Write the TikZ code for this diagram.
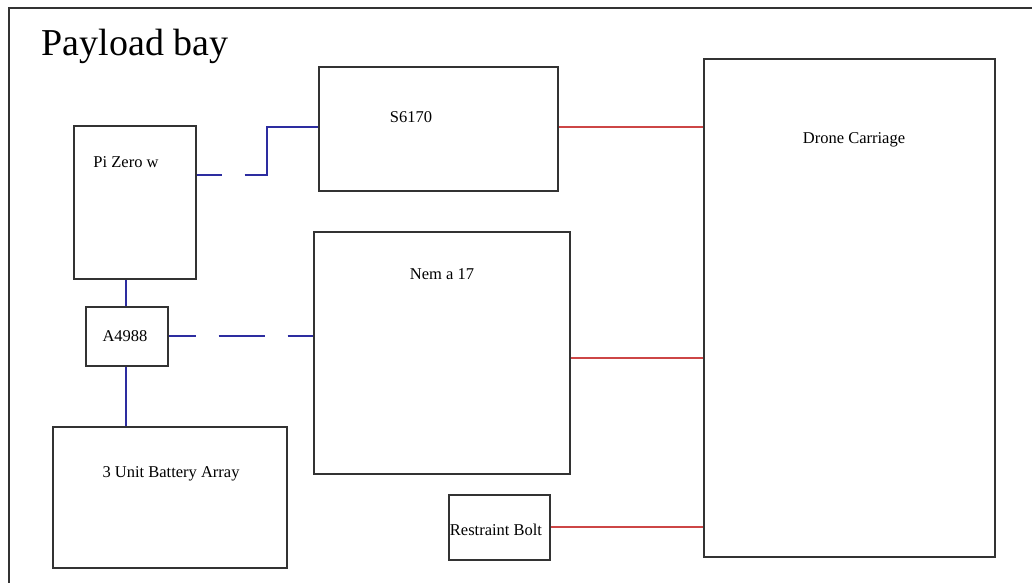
\documentclass[tikz,border=0pt]{standalone}
\usepackage{fontspec}
\setmainfont{Liberation Serif}
\begin{document}
\begin{tikzpicture}[x=1pt,y=-1pt,
  box/.style={draw=black!80,line width=1.7pt,rectangle,inner sep=0pt,anchor=north west},
  lbl/.style={anchor=base,inner sep=0pt,font=\fontsize{16.5}{19}\selectfont,text=black},
  blue line/.style={draw={rgb,255:red,45;green,45;blue,160},line width=1.5pt},
  red line/.style={draw={rgb,255:red,205;green,70;blue,70},line width=1.5pt}]
\useasboundingbox (0,0) rectangle (1032,583);
\fill[white] (0,0) rectangle (1032,583);
% outer frame
\coordinate (ftl) at (9,8);
\coordinate (ftr) at (1032,8);
\coordinate (fbl) at (9,583);
\draw[black!80,line width=1.5pt] (ftr) -- (ftl) -- (fbl);
\node[anchor=base,inner sep=0pt,font=\fontsize{38}{44}\selectfont] (title) at (135,56) {Payload bay};
% boxes
\node[box,minimum width=122pt,minimum height=153pt] (pi) at (73,125) {};
\node[box,minimum width=239pt,minimum height=124pt] (s6) at (318,66) {};
\node[box,minimum width=256pt,minimum height=242pt] (nema) at (313,231) {};
\node[box,minimum width=82pt,minimum height=59pt] (a49) at (85,306) {};
\node[box,minimum width=234pt,minimum height=141pt] (bat) at (52,426) {};
\node[box,minimum width=101pt,minimum height=65pt] (rb) at (448,494) {};
\node[box,minimum width=291pt,minimum height=498pt] (dc) at (703,58) {};
% labels
\node[lbl] (pit) at (126,167) {Pi Zero w};
\node[lbl] (s6t) at (411,122) {S6170};
\node[lbl] (nemat) at (442,279) {Nem a 17};
\node[lbl] (dct) at (854,143) {Drone Carriage};
\node[lbl] (a49t) at (125,341) {A4988};
\node[lbl] (batt) at (171,477) {3 Unit Battery Array};
\node[lbl] (rbt) at (496,535) {Restraint Bolt};
% blue connectors
\draw[blue line,dash pattern=on 25pt off 23pt on 400pt off 0pt]
  (pi.east |- 0,175) -- (267,175) -- (267,127) -- (s6.west |- 0,127);
\draw[blue line,dash pattern=on 27pt off 23pt on 46pt off 23pt on 40pt off 0pt]
  (a49.east |- 0,336) -- (nema.west |- 0,336);
\draw[blue line] (pi.south -| 126,0) -- (a49.north -| 126,0);
\draw[blue line] (a49.south -| 126,0) -- (bat.north -| 126,0);
% red connectors
\draw[red line] (s6.east |- 0,127) -- (dc.west |- 0,127);
\draw[red line] (nema.east |- 0,358) -- (dc.west |- 0,358);
\draw[red line] (rb.east |- 0,527) -- (dc.west |- 0,527);
\end{tikzpicture}
\end{document}
